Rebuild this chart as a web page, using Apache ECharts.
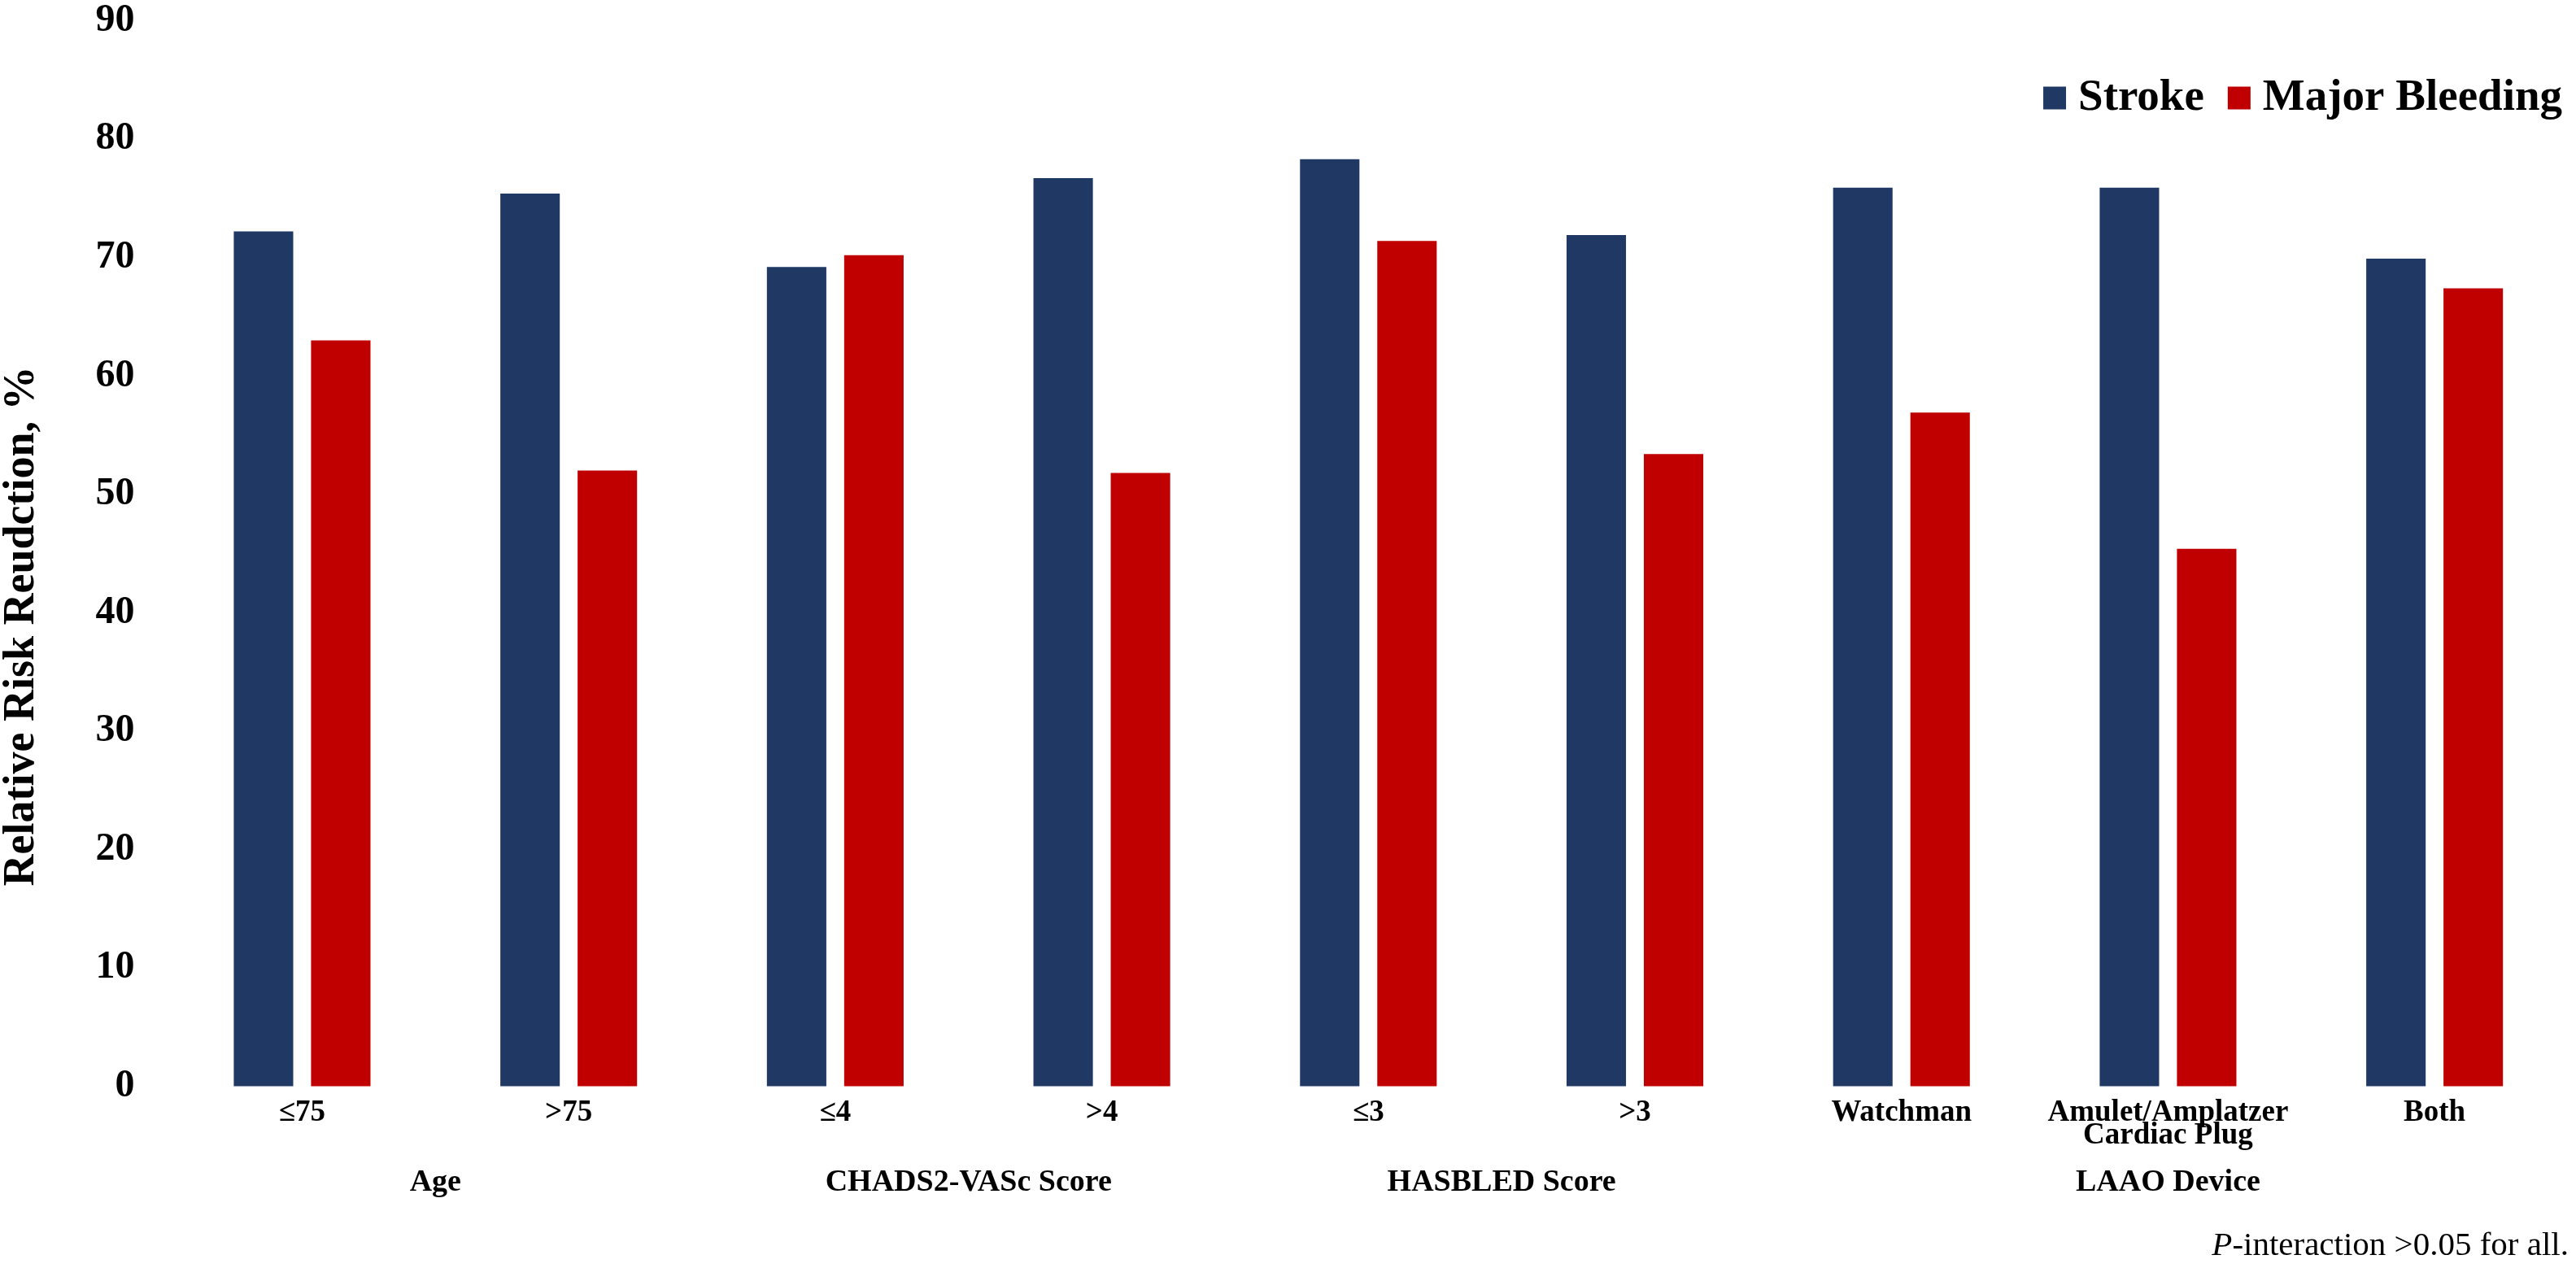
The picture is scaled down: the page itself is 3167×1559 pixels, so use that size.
<!DOCTYPE html>
<html>
<head>
<meta charset="utf-8">
<script src="https://cdn.jsdelivr.net/npm/echarts@6/dist/echarts.min.js"></script>
<style>
html,body{margin:0;padding:0;background:#fff;}
#chart{width:3167px;height:1559px;}
</style>
</head>
<body>
<div id="chart"></div>
<script>
const categories = ['≤75', '>75', '≤4', '>4', '≤3', '>3', 'Watchman', 'Amulet/Amplatzer\nCardiac Plug', 'Both'];
const strokeValues = [72.2, 75.4, 69.2, 76.7, 78.3, 71.9, 75.9, 75.9, 69.9];
const bleedingValues = [63.0, 52.0, 70.2, 51.8, 71.4, 53.4, 56.9, 45.4, 67.4];
const groupLabels = ['Age', 'CHADS2-VASc Score', 'HASBLED Score', 'LAAO Device'];
const groupSpans = [[0, 1], [2, 3], [4, 5], [6, 8]];
const yMin = 0, yMax = 90, yStep = 10;
const seriesNames = ['Stroke', 'Major Bleeding'];

const FONT = "'Liberation Serif', 'Times New Roman', serif";
const NAVY = '#203864';
const RED = '#C00000';

const chart = echarts.init(document.getElementById('chart'));
const option = {
  animation: false,
  backgroundColor: '#ffffff',
  grid: { left: 207.6, right: 10, top: 25.5, bottom: 223.5, containLabel: false },
  legend: {
    data: seriesNames,
    right: 12,
    top: 88,
    icon: 'rect',
    itemWidth: 28,
    itemHeight: 28,
    itemGap: 29,
    textStyle: { fontFamily: FONT, fontWeight: 'bold', fontSize: 55, color: '#000', padding: [0, 0, 0, 10] }
  },
  xAxis: {
    type: 'category',
    data: categories,
    axisLine: { show: false },
    axisTick: { show: false },
    splitLine: { show: false },
    axisLabel: {
      interval: 0,
      margin: 19,
      fontFamily: FONT,
      fontWeight: 'bold',
      fontSize: 37,
      lineHeight: 28,
      color: '#000'
    }
  },
  yAxis: {
    type: 'value',
    min: yMin,
    max: yMax,
    interval: yStep,
    axisLine: { show: false },
    axisTick: { show: false },
    splitLine: { show: false },
    axisLabel: {
      margin: 42,
      fontFamily: FONT,
      fontWeight: 'bold',
      fontSize: 48,
      color: '#000'
    }
  },
  series: [
    {
      name: seriesNames[0],
      type: 'bar',
      data: strokeValues,
      barWidth: '22.3%',
      barGap: '30%',
      itemStyle: { color: NAVY }
    },
    {
      name: seriesNames[1],
      type: 'bar',
      data: bleedingValues,
      barWidth: '22.3%',
      barGap: '30%',
      itemStyle: { color: RED }
    }
  ]
};
chart.setOption(option);

const graphics = [];
groupLabels.forEach((label, i) => {
  const a = chart.convertToPixel({ xAxisIndex: 0 }, groupSpans[i][0]);
  const b = chart.convertToPixel({ xAxisIndex: 0 }, groupSpans[i][1]);
  graphics.push({
    type: 'text',
    x: (a + b) / 2,
    y: 1454,
    style: {
      text: label,
      fontFamily: FONT,
      fontWeight: 'bold',
      fontSize: 38,
      fill: '#000',
      textAlign: 'center',
      textVerticalAlign: 'middle'
    }
  });
});
graphics.push({
  type: 'text',
  x: 27,
  y: 770,
  rotation: Math.PI / 2,
  style: {
    text: 'Relative Risk Reudction, %',
    fontFamily: FONT,
    fontWeight: 'bold',
    fontSize: 54,
    fill: '#000',
    textAlign: 'center',
    textVerticalAlign: 'middle'
  }
});
graphics.push({
  type: 'text',
  x: 3158,
  y: 1532,
  style: {
    text: '{i|P}-interaction >0.05 for all.',
    fontFamily: FONT,
    fontSize: 41,
    fill: '#000',
    textAlign: 'right',
    textVerticalAlign: 'middle',
    rich: {
      i: { fontFamily: FONT, fontStyle: 'italic', fontSize: 41, fill: '#000' }
    }
  }
});
chart.setOption({ graphic: graphics });
</script>
</body>
</html>
